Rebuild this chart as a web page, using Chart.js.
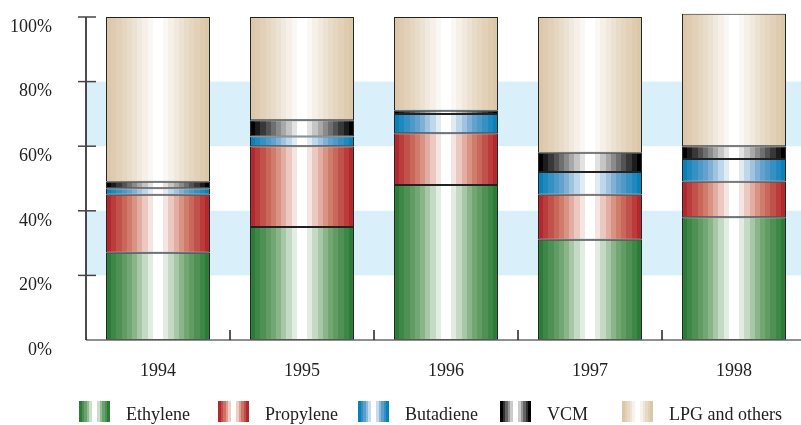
<!DOCTYPE html>
<html>
<head>
<meta charset="utf-8">
<script src="https://cdn.jsdelivr.net/npm/chart.js@4.4.1/dist/chart.umd.min.js"></script>
<style>
  html, body { margin: 0; padding: 0; background: #fff; overflow: hidden; }
  #wrap { width: 806px; height: 425px; }
</style>
</head>
<body>
<div id="wrap"><canvas id="c" width="806" height="425"></canvas></div>
<script>
// Share of output by product, per year (%)
const years = ['1994', '1995', '1996', '1997', '1998'];
const ethylene  = [27, 35, 48, 31, 38];
const propylene = [18, 25, 16, 14, 11];
const butadiene = [2, 3, 6, 7, 7];
const vcm       = [2, 5, 1, 6, 4];
const lpgOthers = [51, 32, 29, 42, 41];
const seriesNames = ['Ethylene', 'Propylene', 'Butadiene', 'VCM', 'LPG and others'];
const yTicks = [0, 20, 40, 60, 80, 100];

const FONT = "'Liberation Serif', 'Times New Roman', serif";
const BAR_PCT = 0.722;

// Colour ramps for the cylinder shading: [centre, middle, edge]
const palettes = [
  [[255, 255, 255], [122, 172, 122], [44, 124, 56]],   // Ethylene
  [[255, 255, 255], [212, 134, 114], [178, 40, 44]],   // Propylene
  [[255, 255, 255], [112, 166, 208], [8, 128, 184]],   // Butadiene
  [[255, 255, 255], [125, 125, 125], [0, 0, 0]],       // VCM
  [[255, 255, 255], [234, 222, 204], [220, 199, 168]]  // LPG and others
];

function mix(pal, t) {
  let a, b, f;
  if (t <= 0.5) { a = pal[0]; b = pal[1]; f = t / 0.5; }
  else { a = pal[1]; b = pal[2]; f = (t - 0.5) / 0.5; }
  const c = a.map((v, i) => Math.round(v + (b[i] - v) * f));
  return `rgb(${c[0]},${c[1]},${c[2]})`;
}

// Stepped horizontal gradient: flat stripes darkening from centre to the edges
function stripes(ctx, x0, x1, pal, n) {
  const g = ctx.createLinearGradient(x0, 0, x1, 0);
  const N = n || 20;
  for (let i = 0; i < N; i++) {
    const u = Math.abs((i + 0.5) / N - 0.5) * 2;
    const umin = 1 / N;
    const t = (u - umin) / (1 - 2 * umin);
    const c = mix(pal, Math.max(0, Math.min(1, t)));
    g.addColorStop(i / N, c);
    g.addColorStop(Math.min(1, (i + 1) / N - 0.0001), c);
  }
  return g;
}

const seriesData = [ethylene, propylene, butadiene, vcm, lpgOthers];

// Give every bar segment its own striped fill, spanning the bar's width
const cylinderPlugin = {
  id: 'cylinderFill',
  beforeDatasetsDraw(chart) {
    chart.data.datasets.forEach((ds, di) => {
      const meta = chart.getDatasetMeta(di);
      meta.data.forEach(bar => {
        const { x, width } = bar.getProps(['x', 'width'], true);
        if (!isFinite(x) || !isFinite(width)) return;
        const fill = stripes(chart.ctx, x - width / 2, x + width / 2, palettes[di], 20);
        bar.options = Object.assign({}, bar.options, { backgroundColor: fill });
      });
    });
  }
};

// Light blue horizontal bands behind the bars
const bandsPlugin = {
  id: 'bands',
  beforeDatasetsDraw(chart) {
    const { ctx, chartArea, scales: { y } } = chart;
    ctx.save();
    ctx.fillStyle = '#d9eff9';
    [[20, 40], [60, 80]].forEach(([lo, hi]) => {
      const top = y.getPixelForValue(hi), bot = y.getPixelForValue(lo);
      ctx.fillRect(chartArea.left, top, chartArea.right - chartArea.left, bot - top);
    });
    ctx.restore();
  }
};

// Axis lines and tick marks
const axesPlugin = {
  id: 'axesLines',
  afterDatasetsDraw(chart) {
    const { ctx, chartArea, scales: { x, y } } = chart;
    ctx.save();
    ctx.lineWidth = 1.5;
    // x axis baseline
    ctx.strokeStyle = '#6a6a6a';
    ctx.beginPath();
    ctx.moveTo(chartArea.left, chartArea.bottom);
    ctx.lineTo(chartArea.right, chartArea.bottom);
    ctx.stroke();
    // y axis line
    ctx.strokeStyle = '#111';
    ctx.beginPath();
    ctx.moveTo(chartArea.left, chartArea.top);
    ctx.lineTo(chartArea.left, chartArea.bottom);
    ctx.stroke();
    // y tick marks crossing the axis
    ctx.strokeStyle = '#444';
    yTicks.forEach(v => {
      if (v === 0) return;
      const py = y.getPixelForValue(v);
      ctx.beginPath();
      ctx.moveTo(chartArea.left - 8, py);
      ctx.lineTo(chartArea.left + 10, py);
      ctx.stroke();
    });
    // x tick marks between categories, pointing up
    ctx.strokeStyle = '#222';
    for (let i = 1; i < years.length; i++) {
      const px = (x.getPixelForValue(i - 1) + x.getPixelForValue(i)) / 2;
      ctx.beginPath();
      ctx.moveTo(px, chartArea.bottom);
      ctx.lineTo(px, chartArea.bottom - 10);
      ctx.stroke();
    }
    ctx.restore();
  }
};

// Legend row along the bottom
const legendPlugin = {
  id: 'bottomLegend',
  afterDraw(chart) {
    const { ctx } = chart;
    const boxX = [79, 218, 358, 500, 622];
    const boxW = 31, boxTop = 401, boxH = 21;
    ctx.save();
    ctx.font = `18px ${FONT}`;
    ctx.textBaseline = 'alphabetic';
    seriesNames.forEach((name, i) => {
      const bx = boxX[i];
      ctx.fillStyle = stripes(ctx, bx, bx + boxW, palettes[i], 12);
      ctx.fillRect(bx, boxTop, boxW, boxH);
      ctx.fillStyle = '#222';
      ctx.fillText(name, bx + boxW + 16, 420);
    });
    ctx.restore();
  }
};

new Chart(document.getElementById('c'), {
  type: 'bar',
  data: {
    labels: years,
    datasets: seriesNames.map((name, i) => ({
      label: name,
      data: seriesData[i],
      backgroundColor: mix(palettes[i], 1),
      borderColor: '#222',
      borderWidth: 1,
      borderSkipped: false,
      barPercentage: BAR_PCT,
      categoryPercentage: 1,
      clip: false
    }))
  },
  options: {
    responsive: false,
    animation: false,
    layout: { padding: { top: 17, left: 0, right: 0, bottom: 0 } },
    plugins: { legend: { display: false }, tooltip: { enabled: false } },
    scales: {
      x: {
        stacked: true,
        grid: { display: false, drawTicks: false },
        border: { display: false },
        ticks: { font: { family: FONT, size: 18 }, color: '#222', padding: 20 },
        afterFit: s => { s.height = 85; s.paddingLeft = 0; s.paddingRight = 0; }
      },
      y: {
        stacked: true,
        min: 0,
        max: 100,
        afterBuildTicks: s => { s.ticks = yTicks.map(v => ({ value: v })); },
        grid: { display: false, drawTicks: false },
        border: { display: false },
        ticks: {
          font: { family: FONT, size: 18 },
          color: '#222',
          padding: 34,
          labelOffset: 10,
          callback: v => v + '%'
        },
        afterFit: s => { s.width = 86; s.paddingTop = 0; s.paddingBottom = 0; }
      }
    }
  },
  plugins: [cylinderPlugin, bandsPlugin, axesPlugin, legendPlugin]
});
</script>
</body>
</html>
